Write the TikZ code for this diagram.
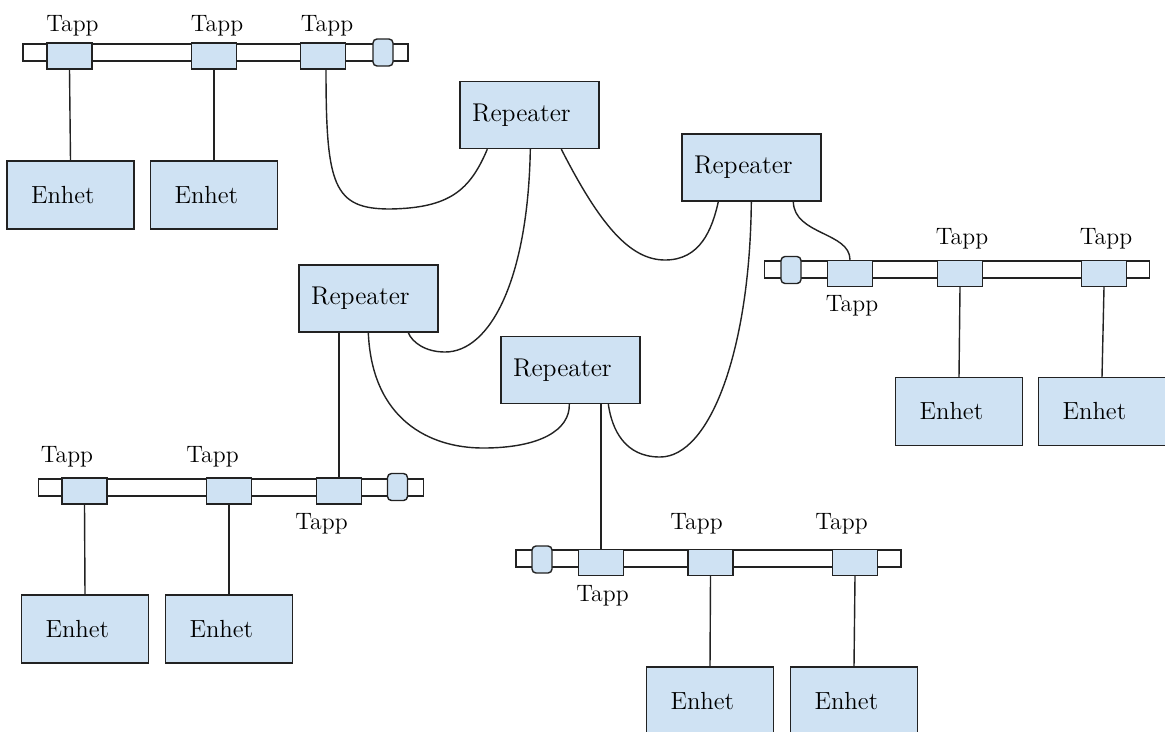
\documentclass[tikz,border=0pt]{standalone}
\usetikzlibrary{calc}
\definecolor{bl}{HTML}{CFE2F3}
\definecolor{lc}{HTML}{222222}
\tikzset{
  rep/.style={draw=lc, fill=bl, line width=0.8pt, inner ysep=0pt, inner xsep=0.24cm, text width=2.3cm, align=left, minimum height=1.34cm, font=\fontsize{14.6}{17}\selectfont, text=black},
  enh/.style={draw=lc, fill=bl, line width=0.8pt, inner ysep=0pt, inner xsep=0.48cm, text width=1.58cm, align=left, minimum height=1.36cm, font=\fontsize{14.1}{17}\selectfont, text=black},
  bus/.style={draw=lc, fill=white, line width=0.8pt, inner sep=0pt, minimum width=7.7cm, minimum height=0.34cm},
  tapbox/.style={draw=lc, fill=bl, line width=0.8pt, inner sep=0pt, minimum width=0.9cm, minimum height=0.52cm},
  term/.style={draw=lc, fill=bl, line width=0.8pt, inner sep=0pt, minimum width=0.4cm, minimum height=0.54cm, rounded corners=0.08cm},
  lbl/.style={anchor=base, inner sep=0pt, font=\fontsize{13.5}{15}\selectfont, text=black},
  wire/.style={draw=lc, line width=0.8pt}
}
\begin{document}
\begin{tikzpicture}[x=0.02cm,y=-0.02cm]
\useasboundingbox (0,0) rectangle (1165,731);
\clip (0,0) rectangle (1165,731);

% ---------- bus A (top left)
\node[bus] (busA) at (215.5,52.5) {};
\node[tapbox] (tA1) at (69.5,56) {};
\node[tapbox] (tA2) at (214,56) {};
\node[tapbox] (tA3) at (323,56) {};
\node[term] (xA) at (383,52.5) {};
\node[lbl] (lA1) at (72.5,31) {Tapp};
\node[lbl] (lA2) at (217,31) {Tapp};
\node[lbl] (lA3) at (327,31) {Tapp};
\node[enh] (eA1) at (70.5,195) {Enhet};
\node[enh] (eA2) at (214,195) {Enhet};

% ---------- bus C (right)
\node[bus] (busC) at (957,269.5) {};
\node[tapbox] (tC1) at (850,273.5) {};
\node[tapbox] (tC2) at (960,273.5) {};
\node[tapbox] (tC3) at (1104,273.5) {};
\node[term] (xC) at (791,270) {};
\node[lbl] (lC1) at (852,311) {Tapp};
\node[lbl] (lC2) at (962,244) {Tapp};
\node[lbl] (lC3) at (1106,244) {Tapp};
\node[enh] (eC1) at (959,411.5) {Enhet};
\node[enh] (eC2) at (1102,411.5) {Enhet};

% ---------- bus B (bottom left)
\node[bus] (busB) at (231,487.5) {};
\node[tapbox] (tB1) at (84.5,491) {};
\node[tapbox] (tB2) at (229,491) {};
\node[tapbox] (tB3) at (339,491) {};
\node[term] (xB) at (397.5,487) {};
\node[lbl] (lB1) at (67,462) {Tapp};
\node[lbl] (lB2) at (212.5,462) {Tapp};
\node[lbl] (lB3) at (321.5,529) {Tapp};
\node[enh] (eB1) at (85,629) {Enhet};
\node[enh] (eB2) at (229,629) {Enhet};

% ---------- bus D (bottom middle)
\node[bus] (busD) at (708.5,558.5) {};
\node[tapbox] (tD1) at (601,562.5) {};
\node[tapbox] (tD2) at (710.5,562.5) {};
\node[tapbox] (tD3) at (855,562.5) {};
\node[term] (xD) at (542,559.5) {};
\node[lbl] (lD1) at (602.5,601) {Tapp};
\node[lbl] (lD2) at (696.5,529) {Tapp};
\node[lbl] (lD3) at (841.5,529) {Tapp};
\node[enh] (eD1) at (710,701) {Enhet};
\node[enh] (eD2) at (854,701) {Enhet};

% ---------- repeaters
\node[rep] (R1) at (529.5,115) {Repeater};
\node[rep] (R2) at (751.5,167.5) {Repeater};
\node[rep] (R3) at (368.5,298.5) {Repeater};
\node[rep] (R4) at (570.5,370) {Repeater};

% ---------- tap to unit lines
\draw[wire] (tA1.south) -- (eA1.north);
\draw[wire] (tA2.south) -- (eA2.north);
\draw[wire] (tB1.south) -- (eB1.north);
\draw[wire] (tB2.south) -- (eB2.north);
\draw[wire] (tC2.south) -- (eC1.north);
\draw[wire] (tC3.south) -- (eC2.north);
\draw[wire] (tD2.south) -- (eD1.north);
\draw[wire] (tD3.south) -- (eD2.north);

% ---------- repeater to tap lines
\draw[wire] (tB3.north |- R3.south) -- (tB3.north);
\draw[wire] (tD1.north |- R4.south) -- (tD1.north);

% ---------- cables
\draw[wire] ($(tA3.south)+(3,0)$) .. controls (326,185) and (333,209) .. (390,209)
   .. controls (450,208) and (470,190) .. ($(R1.south west)+(28,0)$);
\draw[wire] ($(R1.south west)+(71,0)$) .. controls (528,280) and (490,352) .. (445,352)
   .. controls (425,352) and (412,342) .. ($(R3.south west)+(110,0)$);
\draw[wire] ($(R1.south west)+(102,0)$) .. controls (600,225) and (630,260) .. (665,260)
   .. controls (700,260) and (712,230) .. ($(R2.south west)+(37,0)$);
\draw[wire] ($(R2.south west)+(70,0)$) .. controls (750,350) and (710,457) .. (660,457)
   .. controls (625,457) and (612,430) .. ($(R4.south west)+(108,0)$);
\draw[wire] ($(R2.south west)+(112,0)$) .. controls (794,235) and (850,232) .. (tC1.north);
\draw[wire] ($(R3.south west)+(70,0)$) .. controls (372,420) and (430,448) .. (483,448)
   .. controls (540,448) and (570,430) .. ($(R4.south west)+(69,0)$);
\end{tikzpicture}
\end{document}
